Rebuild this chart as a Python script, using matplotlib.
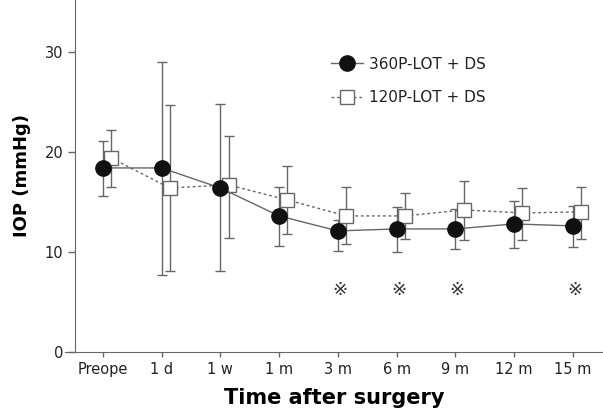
import matplotlib.pyplot as plt
import numpy as np

times = ['Preope', '1 d', '1 w', '1 m', '3 m', '6 m', '9 m', '12 m', '15 m']

# 360P-LOT + DS
iop_360 = [18.4, 18.4, 16.4, 13.6, 12.1, 12.3, 12.3, 12.8, 12.6]
err_360_hi = [21.1, 29.0, 24.8, 16.5, 13.2, 14.5, 14.3, 15.1, 14.6]
err_360_lo = [15.6, 7.7, 8.1, 10.6, 10.1, 10.0, 10.3, 10.4, 10.5]

# 120P-LOT + DS
iop_120 = [19.4, 16.4, 16.7, 15.2, 13.6, 13.6, 14.2, 13.9, 14.0]
err_120_hi = [22.2, 24.7, 21.6, 18.6, 16.5, 15.9, 17.1, 16.4, 16.5]
err_120_lo = [16.5, 8.1, 11.4, 11.8, 10.8, 11.3, 11.2, 11.2, 11.3]

# significant time points
sig_points = ['3 m', '6 m', '9 m', '15 m']
sig_y = 6.2

gray = '#666666'
x = np.arange(len(times))
off = 0.14

fig = plt.figure(figsize=(6.03, 4.13), dpi=100)
ax = fig.add_axes([0.108, 0.148, 0.892, 0.852])

y1 = np.array(iop_360)
ax.errorbar(x, y1, yerr=[y1 - np.array(err_360_lo), np.array(err_360_hi) - y1],
            fmt='none', ecolor=gray, elinewidth=1, capsize=3.5, capthick=1, zorder=1)
y2 = np.array(iop_120)
ax.errorbar(x + off, y2, yerr=[y2 - np.array(err_120_lo), np.array(err_120_hi) - y2],
            fmt='none', ecolor=gray, elinewidth=1, capsize=3.5, capthick=1, zorder=1)

ax.plot(x + off, y2, ls=(0, (2, 2)), color=gray, lw=1, marker='s', ms=10,
        mfc='white', mec=gray, mew=1, label='120P-LOT + DS', zorder=2)
ax.plot(x, y1, ls='-', color=gray, lw=1, marker='o', ms=11,
        mfc='#111111', mec='#111111', label='360P-LOT + DS', zorder=3)

for t in sig_points:
    ax.text(times.index(t) + 0.03, sig_y, '\u203b', ha='center', va='center',
            fontsize=13, color='#333333')

h, l = ax.get_legend_handles_labels()
ax.legend(h[::-1], l[::-1], loc='upper left', bbox_to_anchor=(0.468, 0.878),
          frameon=False, fontsize=11, handlelength=2.1, labelspacing=1.2,
          handletextpad=0.4, labelcolor='#222222')

# x axis runs a little past the y axis on the left
ax.set_xlim(-0.64, 8.51)
ax.spines['left'].set_position(('data', -0.47))
ax.set_ylim(0, 35.2)
ax.set_yticks([0, 10, 20, 30])
ax.set_xticks(x)
ax.set_xticklabels(times)
ax.tick_params(colors=gray, labelcolor='#222222', labelsize=10.5, width=1)
ax.tick_params(axis='y', length=5)
ax.tick_params(axis='x', length=3.5)
for s in ['top', 'right']:
    ax.spines[s].set_visible(False)
for s in ['left', 'bottom']:
    ax.spines[s].set_color(gray)

ax.set_ylabel('IOP (mmHg)', fontsize=13, fontweight='bold', labelpad=10)
ax.set_xlabel('Time after surgery', fontsize=15, fontweight='bold', labelpad=8)

fig.savefig('out.png')
